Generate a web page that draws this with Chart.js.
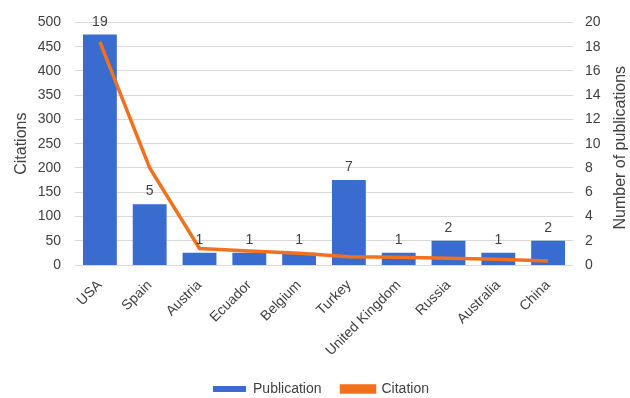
<!DOCTYPE html>
<html>
<head>
<meta charset="utf-8">
<script src="https://cdn.jsdelivr.net/npm/chart.js@4/dist/chart.umd.min.js"></script>
<style>
  html, body { margin: 0; padding: 0; background: #ffffff; }
  canvas { display: block; }
</style>
</head>
<body>
<canvas id="chart" width="630" height="398"></canvas>
<script>
// Publications and citations by country
const countries = ["USA", "Spain", "Austria", "Ecuador", "Belgium", "Turkey", "United Kingdom", "Russia", "Australia", "China"];
const publications = [19, 5, 1, 1, 1, 7, 1, 2, 1, 2];
const citations = [460, 200, 34, 29, 24, 17, 16, 14, 12, 8];

const BAR_COLOR = "#3a6bcf";
const LINE_COLOR = "#f2711c";
const TEXT_COLOR = "#404040";
const FONT = "'Liberation Sans', Arial, sans-serif";
const RIGHT_TITLE = "Number of publications";

// Writes each bar's publication count above it
const barValueLabels = {
  id: "barValueLabels",
  afterDatasetsDraw(chart) {
    const ctx = chart.ctx;
    const meta = chart.getDatasetMeta(0);
    ctx.save();
    ctx.font = "14px " + FONT;
    ctx.fillStyle = TEXT_COLOR;
    ctx.textAlign = "center";
    ctx.textBaseline = "alphabetic";
    meta.data.forEach((bar, i) => {
      ctx.fillText(String(chart.data.datasets[0].data[i]), bar.x, bar.y - 9);
    });
    ctx.restore();
  }
};

// Right-axis title, reading bottom to top like the left one
const rightAxisTitle = {
  id: "rightAxisTitle",
  afterDraw(chart) {
    const ctx = chart.ctx;
    const area = chart.chartArea;
    ctx.save();
    ctx.translate(chart.width - 9, (area.top + area.bottom) / 2 + 4);
    ctx.rotate(-Math.PI / 2);
    ctx.font = "16px " + FONT;
    ctx.fillStyle = TEXT_COLOR;
    ctx.textAlign = "center";
    ctx.textBaseline = "middle";
    ctx.fillText(RIGHT_TITLE, 0, 0);
    ctx.restore();
  }
};

Chart.defaults.font.family = FONT;
Chart.defaults.font.size = 14;
Chart.defaults.color = TEXT_COLOR;

new Chart(document.getElementById("chart"), {
  type: "bar",
  data: {
    labels: countries,
    datasets: [
      {
        type: "bar",
        label: "Publication",
        data: publications,
        yAxisID: "y1",
        backgroundColor: BAR_COLOR,
        borderWidth: 0,
        barPercentage: 0.68,
        categoryPercentage: 1.0,
        order: 2
      },
      {
        type: "line",
        label: "Citation",
        data: citations,
        yAxisID: "y",
        borderColor: LINE_COLOR,
        backgroundColor: LINE_COLOR,
        borderWidth: 3.5,
        pointRadius: 0,
        tension: 0,
        order: 1
      }
    ]
  },
  options: {
    responsive: false,
    animation: false,
    layout: { padding: { left: 12, right: 0, top: 22, bottom: -8 } },
    plugins: {
      tooltip: { enabled: false },
      legend: {
        position: "bottom",
        labels: {
          boxWidth: 33,
          boxHeight: 6,
          padding: 20,
          color: TEXT_COLOR,
          font: { size: 14 },
          sort: (a, b) => a.datasetIndex - b.datasetIndex
        }
      }
    },
    scales: {
      x: {
        grid: { display: false },
        border: { display: false },
        ticks: { minRotation: 45, maxRotation: 45, padding: 4, color: TEXT_COLOR },
        afterFit(scale) { scale.height = 97; }
      },
      y: {
        position: "left",
        min: 0,
        max: 500,
        ticks: { stepSize: 50, padding: 14, color: TEXT_COLOR },
        grid: { color: "#d9d9d9", lineWidth: 1, drawTicks: false },
        border: { display: false },
        title: { display: true, text: "Citations", font: { size: 16 }, color: TEXT_COLOR, padding: { top: 0, bottom: 0 } },
        afterFit(scale) { scale.width = 63; }
      },
      y1: {
        position: "right",
        min: 0,
        max: 20,
        ticks: { stepSize: 2, padding: 12, color: TEXT_COLOR },
        grid: { display: false, drawTicks: false },
        border: { display: false },
        afterFit(scale) { scale.width = 57; }
      }
    }
  },
  plugins: [barValueLabels, rightAxisTitle]
});
</script>
</body>
</html>
